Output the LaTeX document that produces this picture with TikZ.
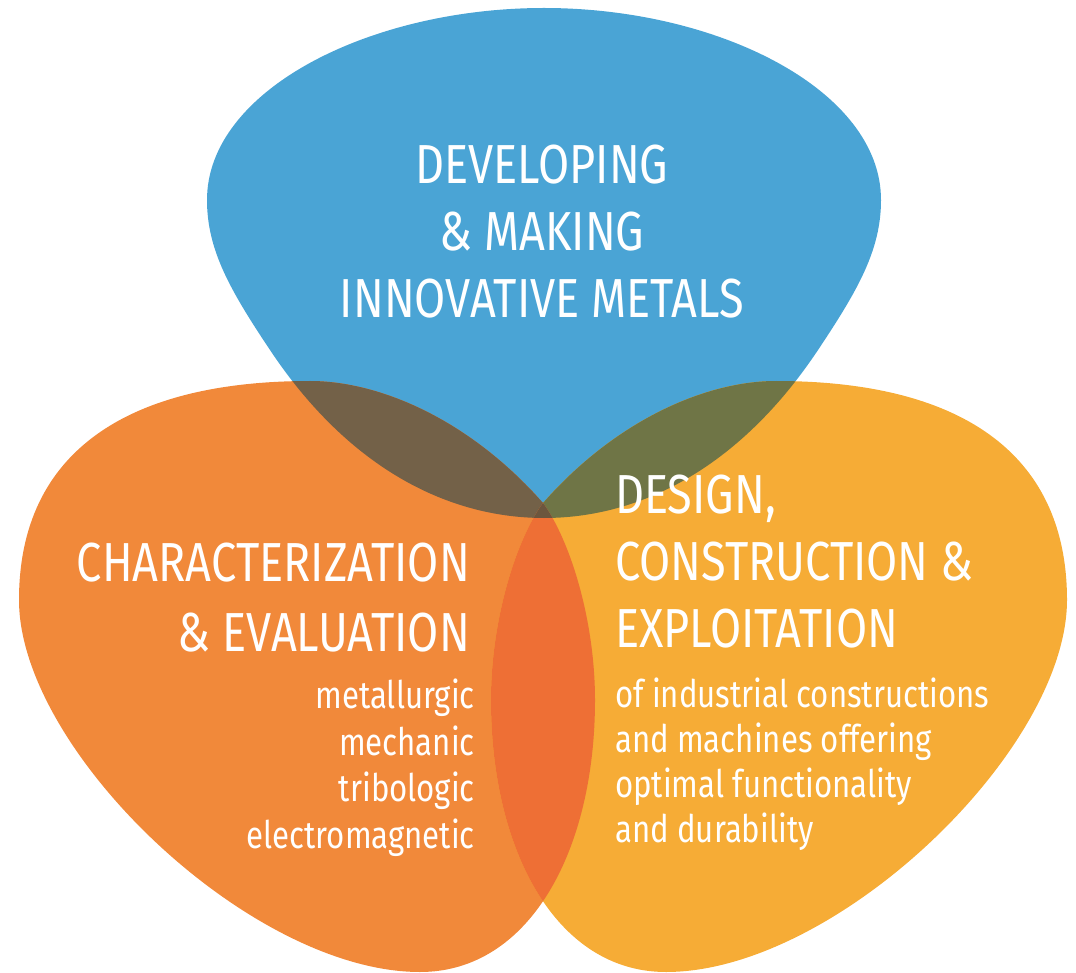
\documentclass[tikz,border=0pt]{standalone}
\usepackage{fontspec}
\setmainfont{Fira Sans}[FakeStretch=0.82]

\definecolor{leafblue}{RGB}{74,164,213}
\definecolor{leaforange}{RGB}{241,137,58}
\definecolor{leafyellow}{RGB}{246,172,54}
\definecolor{mixbrown}{RGB}{115,97,72}
\definecolor{mixgreen}{RGB}{111,117,70}
\definecolor{mixred}{RGB}{238,111,53}
\definecolor{mixall}{RGB}{108,86,62}

\begin{document}
\begin{tikzpicture}[x=1pt,y=-1pt,
    label/.style={text=white,inner sep=0pt},
    head/.style={label,font=\fontsize{55}{67}\selectfont},
    sub/.style={label,font=\fontsize{38}{46.5}\selectfont}]
  \useasboundingbox (0,0) rectangle (1076,973);

  % the three leaves
  \path[save path=\blueleaf]
    (544,518) .. controls (450,518) and (350,470) .. (270,350)
    .. controls (230,290) and (207,250) .. (207,200)
    .. controls (207,90) and (370,8) .. (544,8)
    .. controls (718,8) and (881,90) .. (881,200)
    .. controls (881,250) and (858,290) .. (818,350)
    .. controls (738,470) and (638,518) .. (544,518) -- cycle;
  \path[save path=\orangeleaf]
    (543,503) .. controls (470,420) and (380,381) .. (310,381)
    .. controls (130,381) and (19,450) .. (19,600)
    .. controls (19,750) and (250,972) .. (420,972)
    .. controls (530,972) and (595,850) .. (595,700)
    .. controls (595,620) and (570,540) .. (543,503) -- cycle;
  \path[save path=\yellowleaf]
    (543,503) .. controls (616,420) and (706,381) .. (776,381)
    .. controls (956,381) and (1067,450) .. (1067,600)
    .. controls (1067,750) and (836,972) .. (666,972)
    .. controls (556,972) and (491,850) .. (491,700)
    .. controls (491,620) and (516,540) .. (543,503) -- cycle;

  \fill[leafblue, use path=\blueleaf];
  \fill[leaforange, use path=\orangeleaf];
  \fill[leafyellow, use path=\yellowleaf];

  % overlaps
  \begin{scope}
    \clip[use path=\blueleaf];
    \fill[mixbrown, use path=\orangeleaf];
    \fill[mixgreen, use path=\yellowleaf];
  \end{scope}
  \begin{scope}
    \clip[use path=\orangeleaf];
    \fill[mixred, use path=\yellowleaf];
    \clip[use path=\yellowleaf];
    \fill[mixall, use path=\blueleaf];
  \end{scope}

  % texts
  \node[head, anchor=north, align=center] (develop) at (542,145)
    {DEVELOPING\\\& MAKING\\INNOVATIVE METALS};
  \node[head, anchor=north east, align=right,
        font=\fontsize{55}{70}\selectfont] (charact) at (470,543)
    {CHARACTERIZATION\\\& EVALUATION};
  \node[sub, anchor=north east, align=right] (charlist) at (475,679)
    {metallurgic\\mechanic\\tribologic\\electromagnetic};
  \node[head, anchor=north west, align=left] (design) at (615,475)
    {DESIGN,\\CONSTRUCTION \&\\EXPLOITATION};
  \node[sub, anchor=north west, align=left,
        font=\fontsize{38}{45}\selectfont] (designlist) at (615,678)
    {of industrial constructions\\and machines offering\\optimal functionality\\and durability};
\end{tikzpicture}
\end{document}
